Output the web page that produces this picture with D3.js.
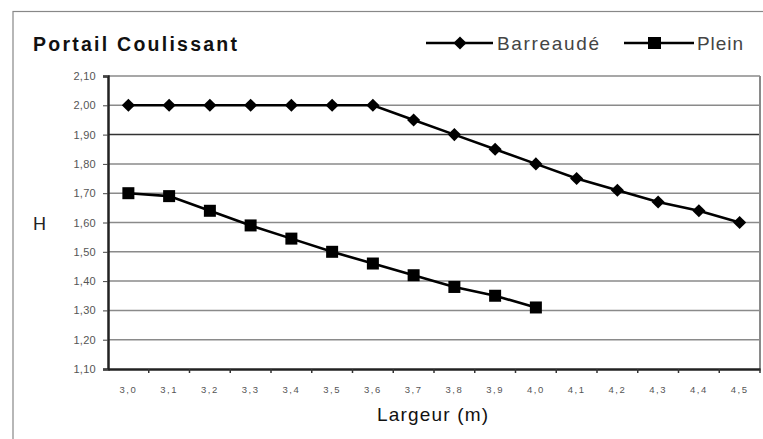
<!DOCTYPE html>
<html><head><meta charset="utf-8">
<script src="https://cdn.jsdelivr.net/npm/d3@7"></script>
<style>body{margin:0;background:#fff}svg{display:block}</style>
</head><body><svg id="c" width="763" height="439"></svg>
<script>
const categories = ["3,0","3,1","3,2","3,3","3,4","3,5","3,6","3,7","3,8","3,9","4,0","4,1","4,2","4,3","4,4","4,5"];
const barreaude = [2.00,2.00,2.00,2.00,2.00,2.00,2.00,1.95,1.90,1.85,1.80,1.75,1.71,1.67,1.64,1.60];
const plein = [1.70,1.69,1.64,1.59,1.545,1.50,1.46,1.42,1.38,1.35,1.31];
const yTicks = [1.10,1.20,1.30,1.40,1.50,1.60,1.70,1.80,1.90,2.00,2.10];
const title = "Portail Coulissant";
const seriesNames = ["Barreaudé","Plein"];

const svg = d3.select("#c");
const font = "Arial, 'Liberation Sans', sans-serif";
const L=108, R=760, T=76, B=369;
// outer frame
svg.append("rect").attr("x",13).attr("y",11.5).attr("width",760).attr("height",440)
  .attr("fill","none").attr("stroke","#888").attr("stroke-width",1.2);

const x = d3.scaleBand().domain(categories).range([L,R]);
const y = d3.scaleLinear().domain([1.10,2.10]).range([B,T]);

// gridlines
svg.append("g").selectAll("line").data(yTicks.slice(1)).join("line")
  .attr("x1",L).attr("x2",R).attr("y1",d=>y(d)).attr("y2",d=>y(d))
  .attr("stroke",d=>Math.abs(d-1.9)<1e-6?"#333":"#8a8a8a").attr("stroke-width",1.5);
// plot border right
svg.append("line").attr("x1",R).attr("x2",R).attr("y1",T).attr("y2",B).attr("stroke","#8a8a8a").attr("stroke-width",2);

// y axis
const yAxis = d3.axisLeft(y).tickValues(yTicks).tickSize(5).tickFormat(d=>d3.format(".2f")(d).replace(".",","));
const gy = svg.append("g").attr("transform",`translate(${L},0)`).call(yAxis);
gy.select(".domain").attr("stroke","#222").attr("stroke-width",2.5);
gy.selectAll(".tick line").attr("stroke","#444");
gy.selectAll("text").attr("font-family",font).attr("font-size",11).attr("letter-spacing",0.3)
  .attr("fill","#555").attr("x",-12);

// x axis
const xAxis = d3.axisBottom(x).tickSize(0).tickPadding(17);
const gx = svg.append("g").attr("transform",`translate(0,${B})`).call(xAxis);
gx.select(".domain").attr("stroke","#222").attr("stroke-width",2.5);
gx.selectAll("text").attr("font-family",font).attr("font-size",9.5).attr("letter-spacing",1.5).attr("fill","#555");
// band-boundary tick marks
svg.append("g").selectAll("line").data(categories).join("line")
  .attr("x1",(d,i)=>x(d)+x.step()).attr("x2",(d,i)=>x(d)+x.step())
  .attr("y1",B).attr("y2",B+4).attr("stroke","#333").attr("stroke-width",1.5);

const cx = i=>x(categories[i])+x.bandwidth()/2;
const line = d3.line().x((d,i)=>cx(i)).y(d=>y(d));

svg.append("path").attr("d",line(barreaude)).attr("fill","none").attr("stroke","#000").attr("stroke-width",2.6);
svg.append("path").attr("d",line(plein)).attr("fill","none").attr("stroke","#000").attr("stroke-width",2.6);

const diamond = d3.symbol().type(d3.symbolDiamond2).size(110);
svg.append("g").selectAll("path").data(barreaude).join("path")
  .attr("d",diamond).attr("transform",(d,i)=>`translate(${cx(i)},${y(d)})`).attr("fill","#000");
svg.append("g").selectAll("rect").data(plein).join("rect")
  .attr("x",(d,i)=>cx(i)-6).attr("y",d=>y(d)-6).attr("width",12).attr("height",12).attr("fill","#000");

// title
svg.append("text").attr("x",33).attr("y",51).text(title)
  .attr("font-family",font).attr("font-size",19.5).attr("font-weight","bold").attr("fill","#111")
  .attr("textLength",204).attr("lengthAdjust","spacing");

// legend
const lg = svg.append("g");
lg.append("line").attr("x1",426).attr("x2",493).attr("y1",43).attr("y2",43).attr("stroke","#000").attr("stroke-width",2.4);
lg.append("path").attr("d",diamond).attr("transform","translate(460,43)");
lg.append("text").attr("x",497).attr("y",50).text(seriesNames[0]).attr("font-family",font).attr("font-size",19).attr("fill","#444")
  .attr("textLength",102).attr("lengthAdjust","spacing");
lg.append("line").attr("x1",624).attr("x2",694).attr("y1",43).attr("y2",43).attr("stroke","#000").attr("stroke-width",2.4);
lg.append("rect").attr("x",648).attr("y",37).attr("width",13).attr("height",12);
lg.append("text").attr("x",697).attr("y",50).text(seriesNames[1]).attr("font-family",font).attr("font-size",19).attr("fill","#444")
  .attr("textLength",46).attr("lengthAdjust","spacing");

// axis labels
svg.append("text").attr("x",33).attr("y",230).text("H").attr("font-family",font).attr("font-size",18).attr("fill","#222");
svg.append("text").attr("x",377).attr("y",421).text("Largeur (m)")
  .attr("font-family",font).attr("font-size",19).attr("fill","#111")
  .attr("textLength",111).attr("lengthAdjust","spacing");
</script></body></html>
